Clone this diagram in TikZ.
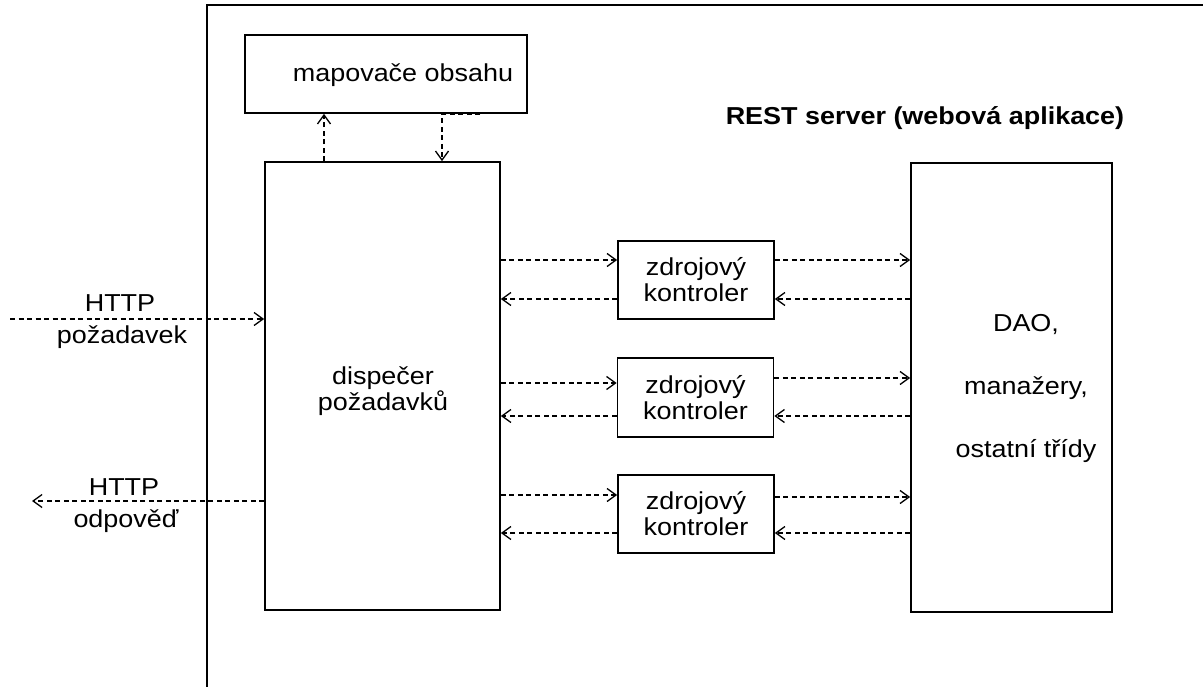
\documentclass[tikz,border=0pt]{standalone}
\usepackage{fontspec}
\setmainfont{Liberation Sans}[FakeStretch=1.1]
\usetikzlibrary{arrows.meta}
\begin{document}
\begin{tikzpicture}[x=1pt,y=-1pt,
  font=\fontsize{24.5pt}{26pt}\selectfont,
  box/.style={draw, line width=1.7pt, inner sep=0pt, align=center},
  boxtext/.style={inner sep=0pt, align=center},
  flow/.style={line width=1.4pt, dash pattern=on 5pt off 3.5pt,
    -{Straight Barb[length=9pt,width=13pt,line width=1.3pt]}},
  lbl/.style={anchor=base, inner sep=0pt}]
\useasboundingbox (0,0) rectangle (1203,687);

% server frame
\draw[line width=2pt] (207,687) -- (207,5) -- (1203,5);
\node[lbl, font=\fontsize{24.5pt}{26pt}\selectfont\bfseries] (title) at (925,125) {REST server (webová aplikace)};

% components
\node[box, minimum width=282pt, minimum height=78pt] (map) at (386,74) {};
\node[boxtext] (maptext) at (403,75) {mapovače obsahu};
\node[box, minimum width=235pt, minimum height=448pt] (disp) at (382.5,386) {};
\node[boxtext] (disptext) at (383,391) {dispečer\\požadavků};
\node[box, minimum width=201pt, minimum height=449pt] (dao) at (1011.5,387.5) {};
\node[boxtext] (daotext) at (1026,388) {DAO,\\[37pt]manažery,\\[37pt]ostatní třídy};
\node[box, minimum width=156pt, minimum height=78pt] (k1) at (696,280) {zdrojový\\kontroler};
\node[box, minimum width=156pt, minimum height=79pt] (k2) at (695.5,397.5) {zdrojový\\kontroler};
\node[box, minimum width=156pt, minimum height=78pt] (k3) at (696,514) {zdrojový\\kontroler};

% dispatcher <-> content mappers
\draw[flow] (disp.north -| 324,0) -- (map.south -| 324,0);
\coordinate (mapout) at (map.south -| 480,0);
\draw[flow] (mapout) -| (disp.north -| 442,0);
\draw[line width=2.2pt, dash pattern=on 5pt off 3.5pt] (mapout) -- (map.south -| 442,0);

% dispatcher <-> controllers
\draw[flow] (disp.east |- 0,260) -- (k1.west |- 0,260);
\draw[flow] (k1.west |- 0,299) -- (disp.east |- 0,299);
\draw[flow] (disp.east |- 0,383) -- (k2.west |- 0,383);
\draw[flow] (k2.west |- 0,416) -- (disp.east |- 0,416);
\draw[flow] (disp.east |- 0,495) -- (k3.west |- 0,495);
\draw[flow] (k3.west |- 0,533) -- (disp.east |- 0,533);

% controllers <-> DAO
\draw[flow] (k1.east |- 0,260) -- (dao.west |- 0,260);
\draw[flow] (dao.west |- 0,299) -- (k1.east |- 0,299);
\draw[flow] (k2.east |- 0,378) -- (dao.west |- 0,378);
\draw[flow] (dao.west |- 0,416) -- (k2.east |- 0,416);
\draw[flow] (k3.east |- 0,497) -- (dao.west |- 0,497);
\draw[flow] (dao.west |- 0,533) -- (k3.east |- 0,533);

% HTTP request and response
\coordinate (reqstart) at (10,319);
\draw[flow] (reqstart) -- (disp.west |- reqstart);
\node[lbl] (req1) at (120,312) {HTTP};
\node[lbl] (req2) at (122,343) {požadavek};

\coordinate (respend) at (32,501);
\draw[flow] (disp.west |- respend) -- (respend);
\node[lbl] (resp1) at (124,495) {HTTP};
\node[lbl] (resp2) at (126,527) {odpověď};
\end{tikzpicture}
\end{document}
